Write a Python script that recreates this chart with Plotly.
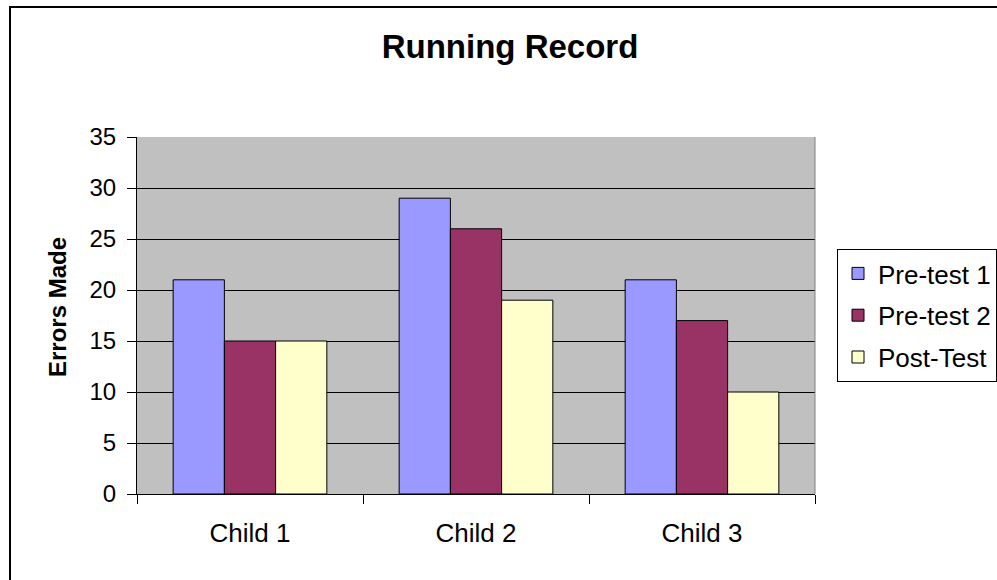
import plotly.graph_objects as go

categories = ["Child 1", "Child 2", "Child 3"]
pre_test_1 = [21, 29, 21]
pre_test_2 = [15, 26, 17]
post_test = [15, 19, 10]
series_names = ["Pre-test 1", "Pre-test 2", "Post-Test"]
series_colors = ["#9999FF", "#993366", "#FFFFCC"]
y_ticks = [0, 5, 10, 15, 20, 25, 30, 35]

W, H = 997, 580
L, R, T, B = 137, 815, 137, 494

fig = go.Figure()
for name, vals, col in zip(series_names, [pre_test_1, pre_test_2, post_test], series_colors):
    fig.add_trace(go.Bar(
        x=categories, y=vals, name=name, legendgroup=name,
        marker=dict(color=col, line=dict(color="#000000", width=1)),
    ))

pw, ph = R - L, B - T

def px_x(p):
    return (p - L) / pw

def px_y(p):
    return (B - p) / ph

fig.update_layout(
    width=W, height=H,
    margin=dict(l=L, r=W - R, t=T, b=H - B, pad=0, autoexpand=False),
    paper_bgcolor="white",
    plot_bgcolor="#C0C0C0",
    font=dict(family="Liberation Sans, Arial, sans-serif", color="#000000", size=24),
    barmode="group",
    bargap=0.32,
    bargroupgap=0,
    title=dict(
        text="<b>Running Record</b>",
        x=510 / W, xanchor="center",
        y=1 - 46 / H, yanchor="middle",
        font=dict(size=33, family="Liberation Sans, Arial, sans-serif"),
    ),
    xaxis=dict(
        showline=True, linecolor="#000000", linewidth=1,
        ticks="outside", tickson="boundaries", ticklen=9, tickcolor="#000000",
        showgrid=False, tickfont=dict(size=26),
        ticklabelstandoff=16,
    ),
    yaxis=dict(
        range=[0, 35], tickvals=y_ticks,
        showline=True, linecolor="#000000", linewidth=1,
        ticks="outside", ticklen=9, tickcolor="#000000",
        showgrid=True, gridcolor="#000000", gridwidth=1,
        zeroline=False,
        tickfont=dict(size=24),
        ticklabelstandoff=6,
    ),
    annotations=[
        dict(text="<b>Errors Made</b>", xref="paper", yref="paper",
             x=px_x(57), y=px_y(307), xanchor="center", yanchor="middle",
             textangle=-90, showarrow=False, font=dict(size=24)),
    ],
    legend=dict(
        x=px_x(837), xanchor="left",
        y=px_y(249), yanchor="top",
        bordercolor="#000000", borderwidth=1, bgcolor="white",
        font=dict(size=26),
        tracegroupgap=5,
    ),
    showlegend=True,
    shapes=[
        dict(type="rect", xref="paper", yref="paper",
             x0=px_x(10), x1=px_x(1010), y0=px_y(600), y1=px_y(7),
             line=dict(color="#000000", width=2), fillcolor="rgba(0,0,0,0)", layer="below"),
        dict(type="line", xref="paper", yref="paper",
             x0=1, x1=1, y0=0, y1=1,
             line=dict(color="#808080", width=1), layer="above"),
    ],
)

fig.write_html("out.html")
